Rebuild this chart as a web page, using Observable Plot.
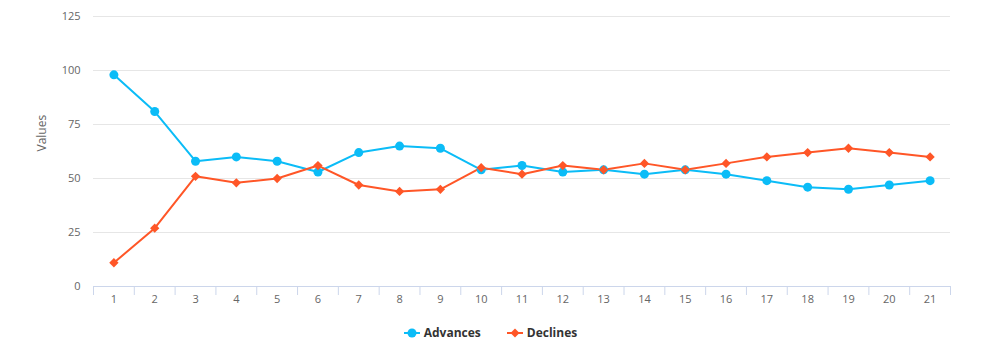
<!DOCTYPE html>
<html>
<head>
<meta charset="utf-8">
<script src="https://cdn.jsdelivr.net/npm/d3@7"></script>
<script src="https://cdn.jsdelivr.net/npm/@observablehq/plot@0.6"></script>
<style>
  html, body { margin: 0; padding: 0; background: #fff; }
  body { width: 999px; height: 345px; overflow: hidden; font-family: "Open Sans", "Noto Sans", sans-serif; }
  #legend { display: flex; justify-content: center; align-items: center; height: 25px; gap: 26px; margin-left: -18px; font-size: 12px; font-weight: bold; color: #333; }
  #legend .item { display: flex; align-items: center; gap: 4px; }
</style>
</head>
<body>
<div id="chart"></div>
<div id="legend"></div>
<script>
const categories = [1,2,3,4,5,6,7,8,9,10,11,12,13,14,15,16,17,18,19,20,21];
const advances = [98,81,58,60,58,53,62,65,64,54,56,53,54,52,54,52,49,46,45,47,49];
const declines = [11,27,51,48,50,56,47,44,45,55,52,56,54,57,54,57,60,62,64,62,60];
const yTicks = [0,25,50,75,100,125];
const seriesNames = ["Advances", "Declines"];
const colors = ["#0bbcf7", "#ff5627"];

const data = [];
categories.forEach((c, i) => {
  data.push({cat: c, value: advances[i], series: seriesNames[0]});
  data.push({cat: c, value: declines[i], series: seriesNames[1]});
});
const boundaries = d3.range(categories[0] - 0.5, categories[categories.length - 1] + 1, 1);
const font = "'Open Sans', 'Noto Sans', sans-serif";

const chart = Plot.plot({
  width: 999,
  height: 320,
  marginLeft: 93,
  marginRight: 49,
  marginTop: 16,
  marginBottom: 34,
  style: {fontFamily: font, fontSize: "11px", color: "#666", background: "#fff"},
  x: {type: "linear", domain: [categories[0] - 0.5, categories[categories.length - 1] + 0.5], axis: null},
  y: {domain: [0, 125], axis: null},
  color: {domain: seriesNames, range: colors},
  marks: [
    Plot.gridY(yTicks, {stroke: "#e6e6e6", strokeOpacity: 1}),
    Plot.axisY(yTicks, {tickSize: 0, tickPadding: 13, fill: "#666", fontSize: 11, label: null}),
    Plot.text(["Values"], {frameAnchor: "left", dx: 42 - 93, rotate: -90, fill: "#666", fontSize: 12}),
    Plot.ruleY([0], {stroke: "#ccd6eb"}),
    Plot.axisX(boundaries, {tickSize: 9, stroke: "#ccd6eb", tickFormat: () => "", label: null}),
    Plot.axisX(categories, {tickSize: 0, tickPadding: 9, fill: "#666", fontSize: 11, label: null, tickFormat: d => String(d)}),
    Plot.line(data, {x: "cat", y: "value", stroke: "series", strokeWidth: 2}),
    Plot.dot(data.filter(d => d.series === seriesNames[0]), {x: "cat", y: "value", fill: "series", r: 4.5, stroke: null}),
    Plot.dot(data.filter(d => d.series === seriesNames[1]), {x: "cat", y: "value", fill: "series", symbol: "diamond2", r: 4.2, stroke: null})
  ]
});
document.getElementById("chart").appendChild(chart);

const legend = document.getElementById("legend");
seriesNames.forEach((name, i) => {
  const item = document.createElement("div");
  item.className = "item";
  const sym = i === 0
    ? `<circle cx="8" cy="6" r="4.5" fill="${colors[i]}"/>`
    : `<path d="M8,1.5 L12.5,6 L8,10.5 L3.5,6 Z" fill="${colors[i]}"/>`;
  item.innerHTML = `<svg width="16" height="12"><line x1="0" x2="16" y1="6" y2="6" stroke="${colors[i]}" stroke-width="2"/>${sym}</svg><span>${name}</span>`;
  legend.appendChild(item);
});
</script>
</body>
</html>
